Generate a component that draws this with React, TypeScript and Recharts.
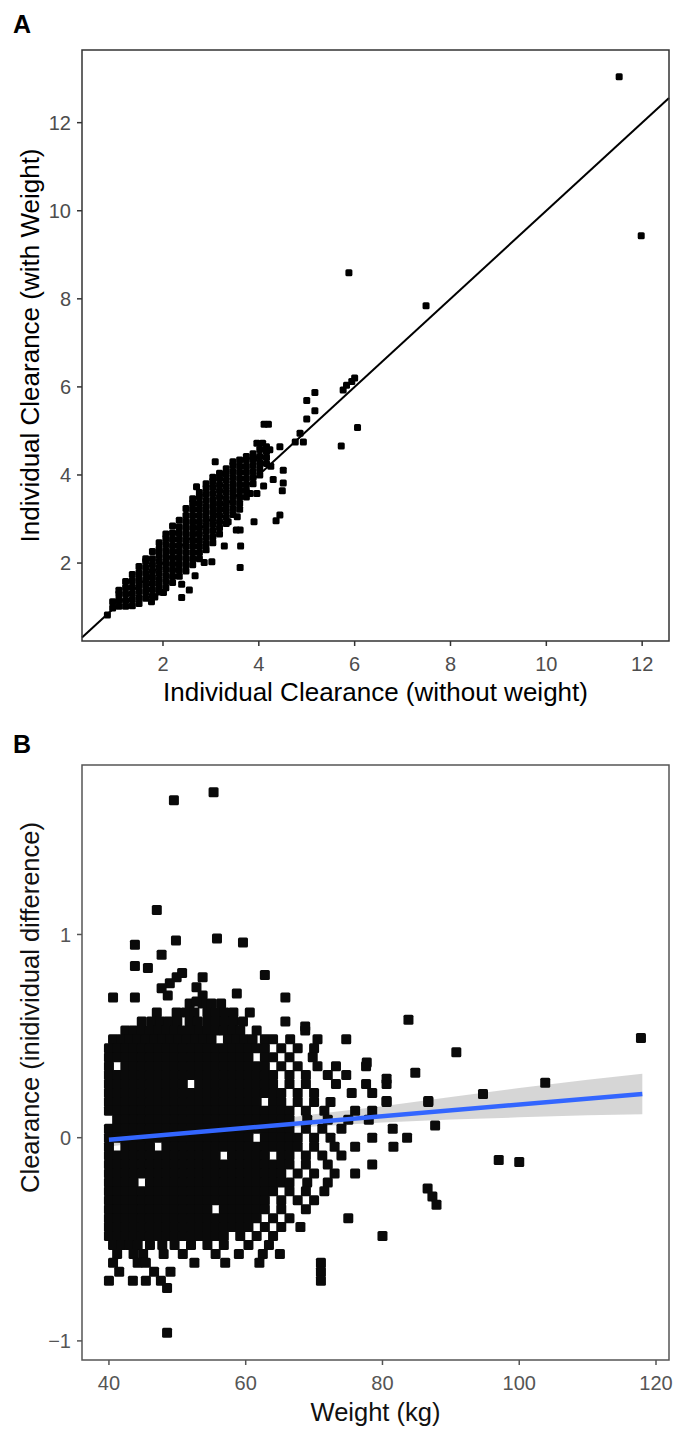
import React from "react";
import {
  ScatterChart,
  ComposedChart,
  Scatter,
  Line,
  Area,
  XAxis,
  YAxis,
  Label,
  ReferenceArea,
  ReferenceLine,
} from "recharts";

const FONT = "'Liberation Sans', Arial, Helvetica, sans-serif";

// ---------- panel A : clearance with vs without weight ----------
const aXTicks = [2, 4, 6, 8, 10, 12];
const aYTicks = [2, 4, 6, 8, 10, 12];
const aXDomain: [number, number] = [0.31, 12.56];
const aYDomain: [number, number] = [0.23, 13.65];

// dense cloud, by column: [without weight, [with weight ...]]
const aCloud: [number, number[]][] = [
  [0.95, [0.98, 1.12]],
  [1.08, [1.02, 1.16, 1.3, 1.38]],
  [1.22, [1.02, 1.15, 1.3, 1.44, 1.58]],
  [1.36, [1.03, 1.17, 1.31, 1.45, 1.6, 1.74]],
  [1.5, [1.08, 1.22, 1.36, 1.5, 1.64, 1.78, 1.92]],
  [1.64, [1.2, 1.34, 1.48, 1.62, 1.76, 1.9, 2.04, 2.1]],
  [1.78, [1.26, 1.4, 1.54, 1.68, 1.82, 1.96, 2.1, 2.26]],
  [1.92, [1.34, 1.48, 1.62, 1.76, 1.9, 2.04, 2.18, 2.32, 2.46]],
  [2.06, [1.44, 1.58, 1.72, 1.86, 2.0, 2.14, 2.28, 2.42, 2.56, 2.66]],
  [2.2, [1.56, 1.7, 1.84, 1.98, 2.12, 2.26, 2.4, 2.54, 2.68, 2.84]],
  [2.34, [1.7, 1.84, 1.98, 2.12, 2.26, 2.4, 2.54, 2.68, 2.82, 2.97]],
  [2.48, [1.82, 1.96, 2.1, 2.24, 2.38, 2.52, 2.66, 2.8, 2.94, 3.08, 3.24]],
  [2.62, [1.96, 2.1, 2.24, 2.38, 2.52, 2.66, 2.8, 2.94, 3.08, 3.22, 3.36, 3.46]],
  [2.76, [2.1, 2.24, 2.38, 2.52, 2.66, 2.8, 2.94, 3.08, 3.22, 3.36, 3.5, 3.6]],
  [2.9, [2.3, 2.44, 2.58, 2.72, 2.86, 3.0, 3.14, 3.28, 3.42, 3.56, 3.7, 3.8]],
  [3.04, [2.46, 2.6, 2.74, 2.88, 3.02, 3.16, 3.3, 3.44, 3.58, 3.72, 3.86, 3.95]],
  [3.18, [2.66, 2.8, 2.94, 3.08, 3.22, 3.36, 3.5, 3.64, 3.78, 3.92, 4.04]],
  [3.32, [2.9, 3.04, 3.18, 3.32, 3.46, 3.6, 3.74, 3.88, 4.02, 4.14]],
  [3.46, [3.1, 3.24, 3.38, 3.52, 3.66, 3.8, 3.94, 4.08, 4.22, 4.3]],
  [3.6, [3.22, 3.36, 3.5, 3.64, 3.78, 3.92, 4.06, 4.2, 4.34]],
  [3.74, [3.5, 3.64, 3.78, 3.92, 4.06, 4.2, 4.34, 4.42]],
  [3.88, [3.8, 3.94, 4.08, 4.22, 4.36, 4.48]],
  [4.02, [4.0, 4.14, 4.28, 4.42, 4.58]],
  [4.16, [4.26, 4.4, 4.54, 4.64]],
];

// scattered points around the cloud and outliers
const aOther: [number, number][] = [
  [0.84, 0.82], [11.52, 13.04], [11.98, 9.43], [5.88, 8.59], [7.49, 7.84],
  [5.76, 5.93], [5.83, 6.04], [5.94, 6.12], [6.0, 6.2], [6.06, 5.08], [5.72, 4.66],
  [5.17, 5.87], [5.0, 5.69], [5.17, 5.46], [5.0, 5.27], [4.86, 4.95], [4.76, 4.75],
  [4.93, 4.75], [4.11, 5.15], [4.2, 5.15], [3.96, 4.72], [4.08, 4.72], [4.44, 4.64],
  [4.23, 4.57], [3.09, 4.3], [3.89, 4.38], [4.51, 4.11], [4.3, 3.9], [4.51, 3.82],
  [4.49, 3.64], [4.44, 3.09], [4.36, 2.96], [3.9, 2.94], [3.61, 2.75], [3.53, 2.75],
  [3.62, 2.39], [3.61, 1.9], [3.55, 3.05], [3.36, 2.94], [3.28, 2.39], [3.02, 2.03],
  [2.86, 2.01], [2.67, 1.71], [2.39, 1.52], [2.55, 1.39], [2.39, 1.22], [2.01, 1.33],
  [1.76, 1.12], [1.83, 1.23], [2.7, 3.73], [3.82, 3.58], [3.96, 3.58], [4.1, 3.75],
  [4.25, 4.2],
];

// ---------- panel B : individual difference vs weight ----------
const bXTicks = [40, 60, 80, 100, 120];
const bYTicks = [-1, 0, 1];
const bXDomain: [number, number] = [36.06, 121.9];
const bYDomain: [number, number] = [-1.094, 1.834];

// dense cloud, by row: [difference, [weight ...]]
const bRows: [number, number[]][] = [
  [0.66, [51.8, 53.7, 55, 56.4]],
  [0.616, [47, 49.9, 51.2, 52.5, 54.4, 55.6, 56.9, 58.2, 60.6]],
  [0.572, [44.8, 46.2, 47.5, 48.7, 50, 51.8, 53, 54.4, 55.6, 56.9, 58.2, 59.6, 65.8]],
  [0.528, [42.4, 43.6, 44.8, 46, 47.2, 48.4, 49.6, 50.8, 52, 53.2, 54.4, 55.6, 56.8, 58, 59.2, 61.6, 68.7]],
  [0.484, [40.6, 41.8, 43, 44.2, 45.4, 46.6, 47.8, 49, 50.2, 51.4, 52.6, 53.8, 55, 57.4, 58.6, 59.8, 61, 62.8, 64, 66.5, 70.5, 74.7]],
  [0.44, [40, 41.2, 42.4, 43.6, 44.8, 46, 47.2, 48.4, 49.6, 50.8, 52, 53.2, 54.4, 55.6, 56.8, 58, 59.2, 60.4, 61.6, 62.8, 65.2, 67.6, 70]],
  [0.396, [40, 41.2, 42.4, 43.6, 44.8, 46, 47.2, 48.4, 49.6, 50.8, 52, 53.2, 54.4, 55.6, 56.8, 58, 59.2, 60.4, 62.8, 64, 66.4, 69.8]],
  [0.352, [40, 42.4, 43.6, 44.8, 46, 47.2, 48.4, 49.6, 50.8, 52, 53.2, 54.4, 55.6, 56.8, 58, 59.2, 60.4, 61.6, 62.8, 65.2, 67.6, 70.5, 73.2, 77.6]],
  [0.308, [40, 41.2, 42.4, 43.6, 44.8, 46, 47.2, 48.4, 49.6, 50.8, 52, 53.2, 54.4, 55.6, 56.8, 58, 59.2, 60.4, 61.6, 62.8, 64, 66.4, 68.8, 72, 74.7]],
  [0.264, [40, 41.2, 42.4, 43.6, 44.8, 46, 47.2, 48.4, 49.6, 50.8, 53.2, 54.4, 55.6, 56.8, 58, 59.2, 60.4, 61.6, 62.8, 64, 66.4, 68.8, 73.2, 77.6, 80.6]],
  [0.22, [40, 41.2, 42.4, 43.6, 44.8, 46, 47.2, 48.4, 49.6, 50.8, 52, 53.2, 54.4, 55.6, 56.8, 58, 59.2, 60.4, 61.6, 62.8, 64, 65.2, 67.6, 70, 75.5, 78.5]],
  [0.176, [40, 41.2, 42.4, 43.6, 44.8, 46, 47.2, 48.4, 49.6, 50.8, 52, 53.2, 54.4, 55.6, 56.8, 58, 59.2, 60.4, 61.6, 64, 65.2, 67.6, 70, 72.4, 80.6, 86.7]],
  [0.132, [40, 41.2, 42.4, 43.6, 44.8, 46, 47.2, 48.4, 49.6, 50.8, 52, 53.2, 54.4, 55.6, 56.8, 58, 59.2, 60.4, 61.6, 62.8, 64, 65.2, 66.4, 68.8, 71.5, 76, 78.5]],
  [0.088, [41.2, 42.4, 43.6, 44.8, 46, 47.2, 48.4, 49.6, 50.8, 52, 53.2, 54.4, 55.6, 56.8, 58, 59.2, 60.4, 61.6, 62.8, 64, 65.2, 66.4, 69, 72, 75, 78]],
  [0.044, [40, 41.2, 42.4, 43.6, 44.8, 46, 47.2, 48.4, 49.6, 50.8, 52, 53.2, 54.4, 55.6, 56.8, 58, 59.2, 60.4, 61.6, 62.8, 64, 65.2, 66.4, 68.8, 71.2, 74, 81.5]],
  [0, [40, 41.2, 42.4, 43.6, 44.8, 46, 47.2, 48.4, 49.6, 50.8, 52, 53.2, 54.4, 55.6, 56.8, 58, 59.2, 60.4, 62.8, 64, 65.2, 66.4, 67.6, 70, 72.4, 78.5, 83.6]],
  [-0.044, [40, 42.4, 43.6, 44.8, 46, 48.4, 49.6, 50.8, 52, 53.2, 54.4, 55.6, 56.8, 58, 59.2, 60.4, 61.6, 62.8, 64, 65.2, 66.4, 67.6, 70, 73, 76, 81.6]],
  [-0.088, [40, 41.2, 42.4, 43.6, 44.8, 46, 47.2, 48.4, 49.6, 50.8, 52, 53.2, 54.4, 55.6, 58, 59.2, 60.4, 61.6, 62.8, 65.2, 66.4, 68.8, 71.2, 74]],
  [-0.132, [40, 41.2, 42.4, 43.6, 44.8, 46, 47.2, 48.4, 49.6, 50.8, 52, 53.2, 54.4, 55.6, 56.8, 58, 59.2, 60.4, 61.6, 62.8, 64, 65.2, 66.4, 68.8, 72, 78.5]],
  [-0.176, [40, 41.2, 42.4, 43.6, 44.8, 46, 47.2, 48.4, 49.6, 50.8, 52, 53.2, 54.4, 55.6, 56.8, 58, 59.2, 60.4, 61.6, 62.8, 64, 65.2, 67.6, 70, 73, 76]],
  [-0.22, [40, 41.2, 42.4, 43.6, 46, 47.2, 48.4, 49.6, 50.8, 52, 53.2, 54.4, 55.6, 56.8, 58, 59.2, 60.4, 61.6, 62.8, 64, 65.2, 66.4, 69, 72]],
  [-0.264, [40, 41.2, 42.4, 43.6, 44.8, 46, 47.2, 48.4, 49.6, 50.8, 52, 53.2, 54.4, 55.6, 56.8, 58, 59.2, 60.4, 61.6, 62.8, 64, 66.4, 68.8, 71.5]],
  [-0.308, [40, 41.2, 42.4, 43.6, 44.8, 46, 47.2, 48.4, 49.6, 50.8, 52, 53.2, 54.4, 55.6, 56.8, 58, 59.2, 60.4, 61.6, 62.8, 65.2, 67.6, 70]],
  [-0.352, [40, 41.2, 42.4, 43.6, 44.8, 46, 47.2, 48.4, 49.6, 50.8, 52, 53.2, 54.4, 56.8, 58, 59.2, 60.4, 61.6, 62.8, 65.2, 68.8]],
  [-0.396, [40, 41.2, 42.4, 43.6, 44.8, 46, 47.2, 48.4, 49.6, 50.8, 52, 53.2, 54.4, 55.6, 56.8, 58, 59.2, 60.4, 61.6, 64, 66.4, 75]],
  [-0.44, [40, 41.2, 42.4, 43.6, 44.8, 46, 47.2, 48.4, 49.6, 50.8, 52, 53.2, 54.4, 55.6, 56.8, 58, 59.2, 60.4, 62.8, 65.2, 68]],
  [-0.484, [40, 41.2, 42.4, 43.6, 44.8, 46, 47.2, 48.4, 49.6, 50.8, 52, 53.2, 54.4, 55.6, 56.8, 59.2, 61.6, 64, 80]],
  [-0.528, [40.6, 41.8, 43, 44.2, 46, 47.8, 49.6, 52, 54.4, 56.8, 60.4, 63.4]],
  [-0.572, [41.2, 43.6, 45, 48, 50.8, 55.6, 59, 62.5, 65]],
  [-0.616, [40.6, 44.2, 45.4, 52.5, 57, 62, 71]],
  [-0.66, [41.5, 46.6, 49, 71]],
  [-0.704, [40, 43.5, 45.4, 47.6, 71]],
];

const bOther: [number, number][] = [
  [49.5, 1.66], [55.3, 1.7], [47, 1.12], [43.8, 0.95], [49.8, 0.97], [55.8, 0.98],
  [59.6, 0.96], [47.7, 0.9], [43.8, 0.845], [45.7, 0.835], [62.8, 0.8], [49.9, 0.79],
  [50.7, 0.81], [53.7, 0.79], [48.9, 0.76], [47.7, 0.735], [52.8, 0.74], [48.6, 0.7],
  [53.7, 0.7], [52.8, 0.67], [58.7, 0.71], [65.8, 0.69], [40.6, 0.69], [43.8, 0.69],
  [68.7, 0.547], [83.8, 0.58], [90.8, 0.42], [84.8, 0.32], [80.6, 0.29], [80.6, 0.18],
  [86.7, 0.18], [94.7, 0.215], [103.8, 0.27], [117.8, 0.49], [87.7, 0.06], [77.7, 0.37],
  [97, -0.11], [100, -0.12], [86.6, -0.25], [87.3, -0.29], [87.9, -0.33],
  [48.5, -0.74], [48.5, -0.96],
];

// linear fit and its confidence band
const bFitW = [40, 118];
const bFitD = [-0.01, 0.215];
const bBandW = [40, 50, 55, 60, 70, 80, 90, 100, 110, 118];
const bBandLo = [-0.045, 0.005, 0.022, 0.035, 0.055, 0.075, 0.09, 0.1, 0.11, 0.115];
const bBandHi = [0.025, 0.045, 0.055, 0.07, 0.115, 0.155, 0.2, 0.245, 0.285, 0.315];

const aPoints = [
  ...aCloud.flatMap(([x, ys]) => ys.map((y) => ({ x, y }))),
  ...aOther.map(([x, y]) => ({ x, y })),
];
const bPoints = [
  ...bRows.flatMap(([d, ws]) => ws.map((w) => ({ w, d }))),
  ...bOther.map(([w, d]) => ({ w, d })),
];
const bFit = bFitW.map((w, i) => ({ w, fit: bFitD[i] }));
const bBand = bBandW.map((w, i) => ({ w, band: [bBandLo[i], bBandHi[i]] }));

const squareA = (p: any) => (
  <rect x={p.cx - 3.5} y={p.cy - 3.5} width={7} height={7} rx={1.5} fill="#000" />
);
const squareB = (p: any) => (
  <rect x={p.cx - 5} y={p.cy - 5} width={10} height={10} rx={1.5} fill="#0a0a0a" />
);

const tickA = { fill: "#4d4d4d", fontSize: 20, fontFamily: FONT };
const tickB = { fill: "#555", fontSize: 20, fontFamily: FONT };
const titleA = { fontSize: 26, fill: "#000", fontFamily: FONT };
const titleB = { fontSize: 25.5, fill: "#111", fontFamily: FONT };
const minus = (v: number) => (v < 0 ? `\u2212${Math.abs(v)}` : `${v}`);

const tagStyle: React.CSSProperties = {
  position: "absolute",
  left: 13,
  fontFamily: FONT,
  fontWeight: "bold",
  fontSize: 25,
  lineHeight: "25px",
};

export default function App() {
  return (
    <div style={{ position: "absolute", left: 0, top: 0, width: 674, height: 1429, background: "#fff" }}>
      <div style={{ position: "absolute", left: 0, top: 0 }}>
        <ScatterChart width={674} height={711} margin={{ top: 50, right: 5, bottom: 0, left: 0 }}>
          <XAxis
            type="number"
            dataKey="x"
            domain={aXDomain}
            ticks={aXTicks}
            allowDataOverflow
            axisLine={false}
            tickLine={{ stroke: "#333", strokeWidth: 1.5 }}
            tickSize={5}
            tickMargin={11}
            height={70}
            tick={tickA}
          >
            <Label value="Individual Clearance (without weight)" position="insideBottom" offset={10} style={titleA} />
          </XAxis>
          <YAxis
            type="number"
            dataKey="y"
            domain={aYDomain}
            ticks={aYTicks}
            allowDataOverflow
            axisLine={false}
            tickLine={{ stroke: "#333", strokeWidth: 1.5 }}
            tickSize={5}
            tickMargin={6}
            width={82}
            tick={tickA}
          >
            <Label value="Individual Clearance (with Weight)" angle={-90} position="center" dx={-11} style={titleA} />
          </YAxis>
          <Scatter data={aPoints} shape={squareA} isAnimationActive={false} />
          <ReferenceLine
            segment={[
              { x: aXDomain[0], y: aXDomain[0] },
              { x: aXDomain[1], y: aXDomain[1] },
            ]}
            stroke="#000"
            strokeWidth={2}
            zIndex={700}
          />
          <ReferenceArea x1={aXDomain[0]} x2={aXDomain[1]} y1={aYDomain[0]} y2={aYDomain[1]} fill="none" stroke="#333" strokeWidth={1.5} zIndex={800} />
        </ScatterChart>
      </div>
      <div style={{ ...tagStyle, top: 12 }}>A</div>

      <div style={{ position: "absolute", left: 0, top: 711 }}>
        <ComposedChart width={674} height={718} margin={{ top: 54, right: 5, bottom: 0, left: 0 }}>
          <XAxis
            type="number"
            dataKey="w"
            domain={bXDomain}
            ticks={bXTicks}
            allowDataOverflow
            axisLine={false}
            tickLine={{ stroke: "#555", strokeWidth: 1.5 }}
            tickSize={5}
            tickMargin={11}
            height={69}
            tick={tickB}
          >
            <Label value="Weight (kg)" position="insideBottom" offset={8} style={titleB} />
          </XAxis>
          <YAxis
            type="number"
            dataKey="d"
            domain={bYDomain}
            ticks={bYTicks}
            allowDataOverflow
            axisLine={false}
            tickLine={{ stroke: "#555", strokeWidth: 1.5 }}
            tickSize={5}
            tickMargin={6}
            width={82}
            tick={tickB}
            tickFormatter={minus}
          >
            <Label value="Clearance (inidividual difference)" angle={-90} position="center" dx={-11} dy={-55} style={titleB} />
          </YAxis>
          <Area data={bBand} dataKey="band" type="linear" stroke="none" fill="#999999" fillOpacity={0.4} isAnimationActive={false} />
          <Scatter data={bPoints} shape={squareB} isAnimationActive={false} />
          <Line data={bFit} dataKey="fit" type="linear" stroke="#3366FF" strokeWidth={4.5} dot={false} isAnimationActive={false} zIndex={700} />
          <ReferenceArea x1={bXDomain[0]} x2={bXDomain[1]} y1={bYDomain[0]} y2={bYDomain[1]} fill="none" stroke="#555" strokeWidth={1.5} zIndex={800} />
        </ComposedChart>
      </div>
      <div style={{ ...tagStyle, top: 732 }}>B</div>
    </div>
  );
}
